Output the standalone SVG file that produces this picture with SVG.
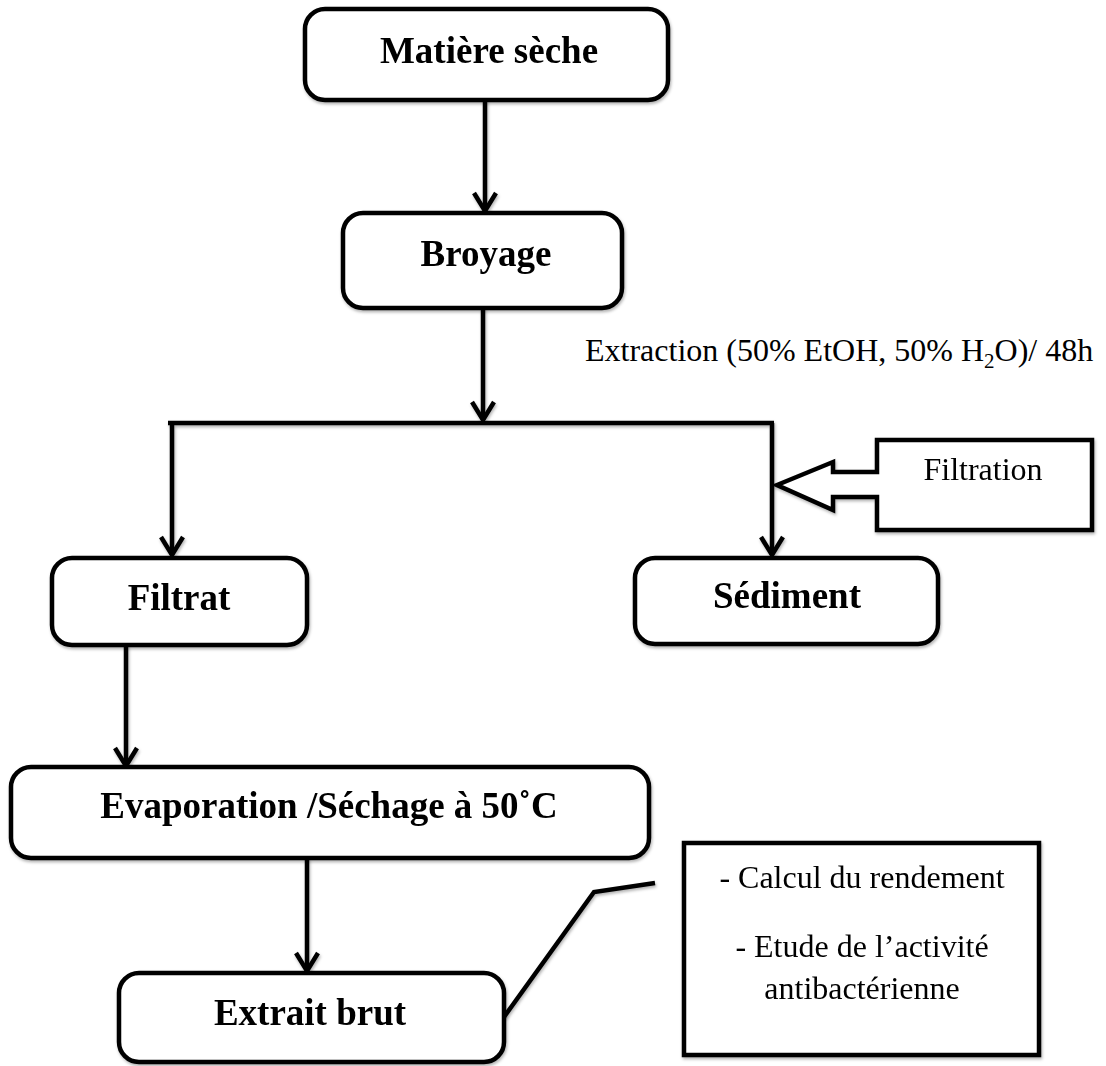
<svg xmlns="http://www.w3.org/2000/svg" width="1106" height="1066" viewBox="0 0 1106 1066">
<style>
.box{fill:#fff;stroke:#000;stroke-width:4.5;}
.ln{fill:none;stroke:#000;stroke-width:4.5;}
.b{font-family:"Liberation Serif","Times New Roman",serif;font-weight:bold;font-size:37px;text-anchor:middle;fill:#000;}
.r{font-family:"Liberation Serif","Times New Roman",serif;font-size:32px;fill:#000;}
.c{text-anchor:middle;}
</style>
<defs>
<filter id="sh" x="-5%" y="-5%" width="110%" height="115%">
<feDropShadow dx="1" dy="2" stdDeviation="1.5" flood-color="#000" flood-opacity="0.3"/>
</filter>
<marker id="ah" markerUnits="userSpaceOnUse" viewBox="-22 -14 26 28" refX="0" refY="0" markerWidth="26" markerHeight="28" orient="auto" overflow="visible">
<path d="M-18,-11 L0,0 L-18,11" fill="none" stroke="#000" stroke-width="4.5" stroke-linejoin="miter"/>
</marker>
</defs>
<rect width="1106" height="1066" fill="#fff"/>
<g id="connectors" filter="url(#sh)">
<line class="ln" x1="485" y1="100" x2="485" y2="211" marker-end="url(#ah)"/>
<line class="ln" x1="483" y1="308" x2="483" y2="420" marker-end="url(#ah)"/>
<line class="ln" x1="168" y1="423" x2="774" y2="423"/>
<line class="ln" x1="172" y1="423" x2="172" y2="555" marker-end="url(#ah)"/>
<line class="ln" x1="772" y1="423" x2="772" y2="555" marker-end="url(#ah)"/>
<line class="ln" x1="126" y1="645" x2="126" y2="766" marker-end="url(#ah)"/>
<line class="ln" x1="307" y1="858" x2="307" y2="971" marker-end="url(#ah)"/>
<polyline class="ln" points="504,1017 594,892 655,883"/>
</g>
<text class="r" x="585" y="361">Extraction (50% EtOH, 50% H<tspan font-size="21" dy="7">2</tspan><tspan dy="-7">O)/ 48h</tspan></text>
<g id="matiere" filter="url(#sh)">
<rect class="box" x="305" y="9" width="363" height="91" rx="20"/>
<text class="b" x="489" y="63">Matière sèche</text>
</g>
<g id="broyage" filter="url(#sh)">
<rect class="box" x="343" y="213" width="279" height="95" rx="20"/>
<text class="b" x="486" y="266">Broyage</text>
</g>
<g id="filtration" filter="url(#sh)">
<path class="box" d="M877,440 L1092,440 L1092,530 L877,530 L877,497 L833,497 L833,510 L777,485 L833,462 L833,472 L877,472 Z"/>
<text class="r c" x="983" y="480">Filtration</text>
</g>
<g id="filtrat" filter="url(#sh)">
<rect class="box" x="52" y="558" width="255" height="87" rx="20"/>
<text class="b" x="179" y="610">Filtrat</text>
</g>
<g id="sediment" filter="url(#sh)">
<rect class="box" x="635" y="558" width="303" height="86" rx="20"/>
<text class="b" x="787" y="608">Sédiment</text>
</g>
<g id="evaporation" filter="url(#sh)">
<rect class="box" x="11" y="767" width="638" height="91" rx="20"/>
<text class="b" x="329" y="818">Evaporation /Séchage à 50˚C</text>
</g>
<g id="extrait" filter="url(#sh)">
<rect class="box" x="119" y="973" width="385" height="89" rx="20"/>
<text class="b" x="310" y="1025">Extrait brut</text>
</g>
<g id="resultats" filter="url(#sh)">
<rect class="box" x="684" y="843" width="355" height="212"/>
<text class="r c" x="862" y="888">- Calcul du rendement</text>
<text class="r c" x="862" y="957">- Etude de l’activité</text>
<text class="r c" x="862" y="999">antibactérienne</text>
</g>
</svg>
